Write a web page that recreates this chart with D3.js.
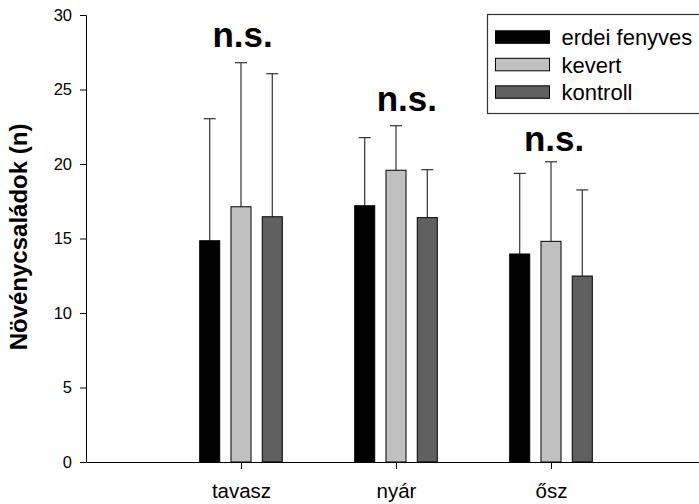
<!DOCTYPE html>
<html>
<head>
<meta charset="utf-8">
<script src="https://cdn.jsdelivr.net/npm/d3@7"></script>
<style>
  body { margin: 0; background: #fff; }
  svg { display: block; font-family: "Liberation Sans", Arial, sans-serif; }
</style>
</head>
<body>
<div id="chart"></div>
<script>
// seasons and treatments
const seasons = ["tavasz", "nyár", "ősz"];
const series = ["erdei fenyves", "kevert", "kontroll"];
const seriesColors = ["#000000", "#c0c0c0", "#606060"];

// means and upper error (mean + SD), one row per season
const means = [
  [14.85, 17.13, 16.46],
  [17.2, 19.58, 16.4],
  [13.96, 14.81, 12.48]
];
const upper = [
  [23.04, 26.8, 26.06],
  [21.77, 22.57, 19.62],
  [19.37, 20.15, 18.26]
];

// "n.s." labels, in axis units (season position, value)
const nsText = "n.s.";
const nsPos = [1.01, 2.07, 3.02];
const nsVal = [27.85, 23.56, 20.87];

const yTicks = [0, 5, 10, 15, 20, 25, 30];
const yLabel = "Növénycsaládok (n)";

const width = 699, height = 504;
const svg = d3.select("#chart")
  .append("svg")
    .attr("width", width)
    .attr("height", height);

// x: seasons sit at 1, 2, 3
const x = d3.scaleLinear()
  .domain([0, 4])
  .range([86, 706]);
const inner = d3.scaleBand()
  .domain(series)
  .range([-41.3, 41.3])
  .paddingInner(0.36);
const y = d3.scaleLinear()
  .domain([0, 30])
  .range([462, 15]);
const color = d3.scaleOrdinal()
  .domain(series)
  .range(seriesColors);

// flatten into bar records
const bars = [];
seasons.forEach((s, i) => {
  series.forEach((name, j) => {
    bars.push({season: i + 1, name: name, mean: means[i][j], hi: upper[i][j]});
  });
});

// error bars (upper only), drawn first so bars cover the stem
const err = svg.append("g")
  .attr("stroke", "#333")
  .attr("stroke-width", 1.2);
err.selectAll("line.stem")
  .data(bars)
  .enter()
  .append("line")
    .attr("class", "stem")
    .attr("x1", d => x(d.season) + inner(d.name) + inner.bandwidth() / 2)
    .attr("x2", d => x(d.season) + inner(d.name) + inner.bandwidth() / 2)
    .attr("y1", d => y(d.mean))
    .attr("y2", d => y(d.hi));
err.selectAll("line.cap")
  .data(bars)
  .enter()
  .append("line")
    .attr("class", "cap")
    .attr("x1", d => x(d.season) + inner(d.name) + inner.bandwidth() / 2 - 6)
    .attr("x2", d => x(d.season) + inner(d.name) + inner.bandwidth() / 2 + 6)
    .attr("y1", d => y(d.hi))
    .attr("y2", d => y(d.hi));

// bars
svg.append("g")
  .selectAll("rect")
  .data(bars)
  .enter()
  .append("rect")
    .attr("x", d => x(d.season) + inner(d.name))
    .attr("y", d => y(d.mean))
    .attr("width", inner.bandwidth())
    .attr("height", d => y(0) - y(d.mean))
    .attr("fill", d => color(d.name))
    .attr("stroke", "#000")
    .attr("stroke-width", 1);

// y axis
const yAxis = svg.append("g")
  .attr("transform", "translate(" + x(0) + ",0)")
  .call(d3.axisLeft(y).tickValues(yTicks).tickSize(6).tickPadding(8));
yAxis.selectAll("text").attr("font-size", 16.5).attr("fill", "#000");

// x axis
const xAxis = svg.append("g")
  .attr("transform", "translate(0," + y(0) + ")")
  .call(d3.axisBottom(x)
    .tickValues([1, 2, 3])
    .tickFormat(d => seasons[d - 1])
    .tickSize(7)
    .tickSizeOuter(0)
    .tickPadding(14));
xAxis.selectAll("text").attr("font-size", 20.5).attr("fill", "#000");
[yAxis, xAxis].forEach(a => {
  a.select(".domain").attr("stroke", "#000");
  a.selectAll(".tick line").attr("stroke", "#000");
  a.attr("font-family", null);
});

// y axis title
svg.append("text")
  .attr("transform", "rotate(-90)")
  .attr("x", -237)
  .attr("y", 27)
  .attr("text-anchor", "middle")
  .attr("font-size", 24)
  .attr("font-weight", "bold")
  .text(yLabel);

// n.s. annotations
svg.append("g")
  .selectAll("text")
  .data(nsPos)
  .enter()
  .append("text")
    .attr("x", d => x(d))
    .attr("y", (d, i) => y(nsVal[i]))
    .attr("text-anchor", "middle")
    .attr("font-size", 35)
    .attr("font-weight", "bold")
    .text(nsText);

// legend
const legend = svg.append("g")
  .attr("transform", "translate(487.5,14.5)");
legend.append("rect")
  .attr("width", 240)
  .attr("height", 99)
  .attr("fill", "#fff")
  .attr("stroke", "#333")
  .attr("stroke-width", 1.2);
const item = legend.selectAll("g.item")
  .data(series)
  .enter()
  .append("g")
    .attr("class", "item")
    .attr("transform", (d, i) => "translate(0," + (22.5 + i * 27.5) + ")");
item.append("rect")
  .attr("x", 8)
  .attr("y", -6.2)
  .attr("width", 54)
  .attr("height", 12.5)
  .attr("fill", d => color(d))
  .attr("stroke", "#000")
  .attr("stroke-width", 1);
item.append("text")
  .attr("x", 74)
  .attr("dy", "0.38em")
  .attr("font-size", 22)
  .attr("fill", "#000")
  .text(d => d);
</script>
</body>
</html>
